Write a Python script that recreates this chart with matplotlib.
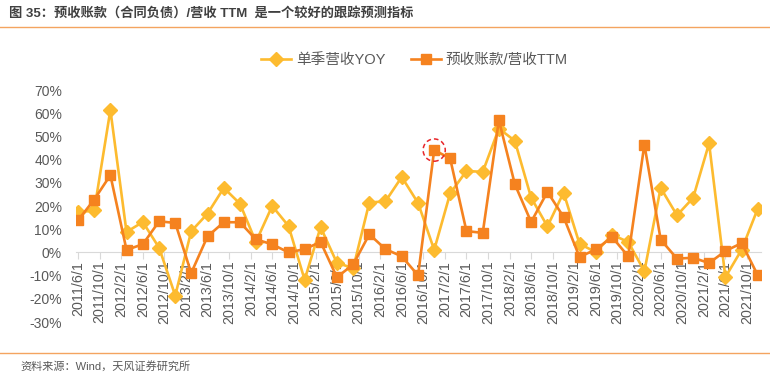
import pandas as pd
import matplotlib.pyplot as plt
from matplotlib.patches import Ellipse
from matplotlib.lines import Line2D
import matplotlib.dates as mdates

plt.rcParams['font.family'] = ['Liberation Sans', 'Noto Sans CJK SC', 'DejaVu Sans']

# fechas trimestrales (2011/6 -> 2021/12) y etiquetas cada 4 meses
fechas = pd.date_range('2011-06-01', '2021-12-01', freq='3MS')
fechas_ticks = pd.date_range('2011-06-01', '2021-10-01', freq='4MS')

yoy = [17.2, 18.1, 61.4, 8.8, 13.1, 2.0, -18.6, 9.1, 16.7, 27.8,
       21.0, 4.5, 20.0, 11.4, -11.8, 10.9, -4.5, -6.8, 21.5, 22.0,
       32.5, 21.3, 1.1, 25.4, 35.1, 34.7, 53.4, 48.1, 23.6, 11.2,
       25.8, 3.7, 0.1, 7.6, 4.5, -8.1, 27.8, 16.0, 23.5, 47.0,
       -10.7, 1.2, 18.9]
ttm = [13.8, 22.8, 33.3, 1.1, 3.5, 13.4, 12.7, -8.9, 6.9, 13.0,
       13.0, 5.6, 3.5, 0.0, 1.4, 4.5, -10.7, -5.2, 7.8, 1.4,
       -1.7, -9.9, 44.1, 40.5, 9.2, 8.4, 57.0, 29.4, 13.1, 26.1,
       15.3, -2.0, 1.3, 6.6, -1.7, 46.5, 5.5, -2.7, -2.3, -4.6,
       0.6, 4.0, -9.9]
punto_marcado = 22  # el que va con el circulo rojo

amarillo = '#FDBB2F'
naranja = '#F5821F'
gris = '#595959'

fig = plt.figure(figsize=(7.7, 3.77), dpi=100)
ax = fig.add_axes([76 / 770, 1 - 322 / 377, (761 - 76) / 770, (322 - 90) / 377])

# primero los ejes (set_position resetea los ticks)
for s in ['top', 'right', 'left']:
    ax.spines[s].set_visible(False)
ax.spines['bottom'].set_position(('data', 0))
ax.spines['bottom'].set_color('#D9D9D9')

ax.plot(fechas, yoy, color=amarillo, lw=1.9, marker='D', ms=6.8, mec=amarillo, zorder=3)
ax.plot(fechas, ttm, color=naranja, lw=1.9, marker='s', ms=7.5, mec=naranja, zorder=4)

# circulo rojo punteado
xc = mdates.date2num(fechas[punto_marcado])
ax.add_patch(Ellipse((xc, ttm[punto_marcado]), width=125, height=9.6, fill=False,
                     ec='#E8262A', ls=(0, (3, 2)), lw=1.1, zorder=5))

ax.set_xlim(mdates.date2num(fechas[0]) - 11, mdates.date2num(fechas[-1]) + 18)
ax.set_ylim(-30, 70)
ax.set_yticks(range(-30, 71, 10))
ax.set_yticklabels([f'{v}%' for v in range(-30, 71, 10)], fontsize=10, color=gris)
ax.set_xticks(fechas_ticks)
ax.set_xticklabels([f'{d.year}/{d.month}/{d.day}' for d in fechas_ticks],
                   rotation=90, fontsize=10.3, color=gris, va='top', ha='center')
ax.tick_params(axis='y', length=0, pad=10)
ax.tick_params(axis='x', length=5, color='#D9D9D9', pad=1)

handles = [Line2D([], [], color=amarillo, lw=1.9, marker='D', ms=6.8),
           Line2D([], [], color=naranja, lw=1.9, marker='s', ms=7.5)]
fig.legend(handles, ['单季营收YOY', '预收账款/营收TTM'], ncol=2, frameon=False,
           loc='center', bbox_to_anchor=(0.538, 0.84), fontsize=10.5,
           labelcolor=gris, handlelength=2.05, columnspacing=1.75, handletextpad=0.35)

# titulo, lineas y fuente
fig.text(0.012, 0.965, '图 35：预收账款（合同负债）/营收 TTM  是一个较好的跟踪预测指标',
         fontsize=9.5, fontweight='bold', color='#404040', va='center')
fig.add_artist(Line2D([0, 1], [1 - 27 / 377] * 2, color='#F4A460', lw=1))
fig.add_artist(Line2D([0, 1], [1 - 353 / 377] * 2, color='#F4A460', lw=1))
fig.text(0.026, 1 - 366 / 377, '资料来源：Wind，天风证券研究所', fontsize=8,
         color=gris, va='center')

fig.savefig('out.png', dpi=100)
